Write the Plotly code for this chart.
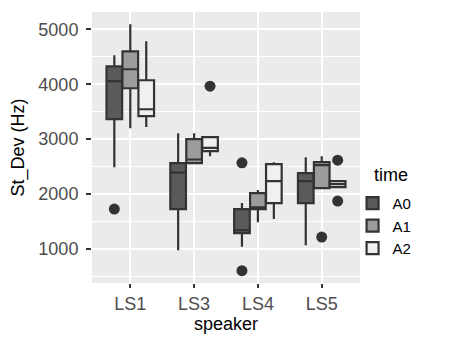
import plotly.graph_objects as go

speakers = ["LS1", "LS3", "LS4", "LS5"]
times = ["A0", "A1", "A2"]

# box statistics per time (order follows speakers)
lowerfence = {
    "A0": [2490, 980, 1040, 1070],
    "A1": [3200, 2560, 1490, 2110],
    "A2": [3220, 2690, 1545, 2130],
}
q1 = {
    "A0": [3365, 1727, 1290, 1836],
    "A1": [3927, 2564, 1727, 2109],
    "A2": [3418, 2782, 1836, 2127],
}
median = {
    "A0": [4055, 2390, 1345, 2236],
    "A1": [4273, 2630, 1760, 2527],
    "A2": [3545, 2840, 2236, 2182],
}
q3 = {
    "A0": [4327, 2564, 1727, 2382],
    "A1": [4600, 3000, 2018, 2582],
    "A2": [4073, 3036, 2545, 2236],
}
upperfence = {
    "A0": [4527, 3109, 1836, 2673],
    "A1": [5090, 3109, 2073, 2691],
    "A2": [4782, 3036, 2582, 2236],
}
# outliers: (speaker, time, value)
out_speaker = ["LS1", "LS3", "LS4", "LS4", "LS5", "LS5", "LS5"]
out_time = ["A0", "A2", "A0", "A0", "A1", "A2", "A2"]
out_value = [1727, 3964, 2570, 606, 1218, 2618, 1873]

fills = {"A0": "#5a5a5a", "A1": "#9c9c9c", "A2": "#f0f0f0"}
dodge = 0.25
offsets = {t: (i - 1) * dodge for i, t in enumerate(times)}

fig = go.Figure()
for t in times:
    xs = [i + offsets[t] for i in range(len(speakers))]
    fig.add_trace(go.Box(
        name=t, x=xs, q1=q1[t], median=median[t], q3=q3[t],
        lowerfence=lowerfence[t], upperfence=upperfence[t],
        width=dodge * 0.98, whiskerwidth=0, boxpoints=False,
        fillcolor=fills[t], line=dict(color="#333333", width=2.2),
        hoverinfo="skip",
    ))

ox = [speakers.index(s) + offsets[t] for s, t in zip(out_speaker, out_time)]
fig.add_trace(go.Scatter(
    x=ox, y=out_value, mode="markers", showlegend=False,
    marker=dict(color="#333333", size=11, line=dict(width=0)),
    hoverinfo="skip",
))

# page has an 8px body margin, so the figure is sized to the remaining area
W, H = 451, 332
fig.update_layout(
    width=W, height=H,
    margin=dict(l=84, r=99, t=4, b=57, autoexpand=False),
    paper_bgcolor="white", plot_bgcolor="#EBEBEB",
    font=dict(family="Liberation Sans, Arial, sans-serif", size=18, color="black"),
    showlegend=True,
    legend=dict(
        xref="container", yref="container", x=0.764, y=0.461,
        xanchor="left", yanchor="top",
        font=dict(size=15, color="black"),
        itemwidth=30, tracegroupgap=0,
        bgcolor="rgba(0,0,0,0)",
    ),
    annotations=[dict(
        text="time", xref="paper", yref="paper",
        x=(372 - 92) / 268, y=1 - (175 - 12) / 271,
        xanchor="left", yanchor="middle", showarrow=False,
        font=dict(size=18, color="black"),
    )],
)
fig.update_xaxes(
    range=[-0.6, 3.6], tickmode="array", automargin=False,
    tickvals=list(range(len(speakers))), ticktext=speakers,
    showgrid=True, gridcolor="white", gridwidth=1.6, zeroline=False,
    ticks="outside", ticklen=4, tickwidth=1.5, tickcolor="#333333",
    tickfont=dict(size=18, color="#4D4D4D"),
    title=dict(text="speaker", font=dict(size=18, color="black"), standoff=4),
)
fig.update_yaxes(
    range=[382, 5315], tick0=0, dtick=1000, automargin=False,
    showgrid=True, gridcolor="white", gridwidth=1.6, zeroline=False,
    minor=dict(dtick=500, tick0=0, showgrid=True, gridcolor="white", gridwidth=0.8),
    ticks="outside", ticklen=5, tickwidth=1.5, tickcolor="#333333",
    ticklabelstandoff=4,
    tickfont=dict(size=18, color="#4D4D4D"),
    title=dict(text="St_Dev (Hz)", font=dict(size=18, color="black"), standoff=9),
)

fig.write_html("out.html")
